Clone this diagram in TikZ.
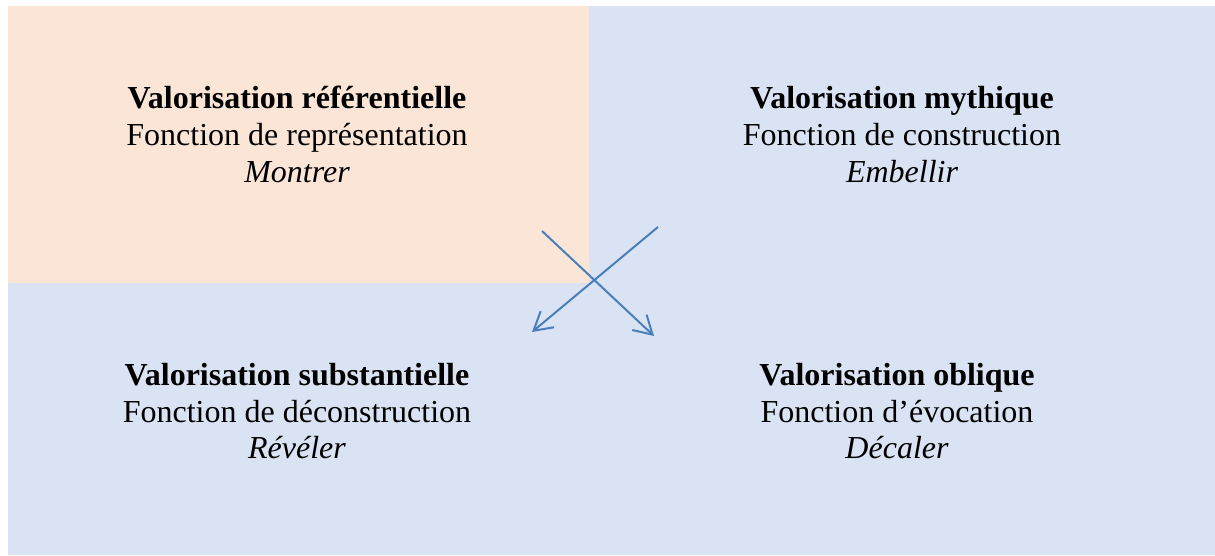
\documentclass[tikz,border=0pt]{standalone}
\usepackage{fontspec}
\setmainfont{Liberation Serif}
\usetikzlibrary{arrows.meta}
\definecolor{peach}{HTML}{FBE5D6}
\definecolor{paleblue}{HTML}{DAE3F3}
\definecolor{arrowblue}{HTML}{4A7EBB}
\begin{document}
\begin{tikzpicture}[x=1pt,y=-1pt,
  txt/.style={anchor=base,inner sep=0pt,font=\fontsize{32}{37}\selectfont},
  ttl/.style={txt,font=\fontsize{32}{37}\selectfont\bfseries},
  verb/.style={txt,font=\fontsize{32}{37}\selectfont\itshape},
  cross/.style={draw=arrowblue,line width=2pt,-{Straight Barb[length=18pt,width=21pt,line width=2pt]}}]
\useasboundingbox (0,0) rectangle (1215,555);
\fill[white] (0,0) rectangle (1215,555);
\fill[paleblue] (8,6) rectangle (1215,555);
\fill[peach] (8,6) rectangle (589,283);
% top left
\node[ttl]  (tla) at (297,108) {Valorisation référentielle};
\node[txt]  (tlb) at (297,145) {Fonction de représentation};
\node[verb] (tlc) at (297,182) {Montrer};
% top right
\node[ttl]  (tra) at (902,108) {Valorisation mythique};
\node[txt]  (trb) at (902,145) {Fonction de construction};
\node[verb] (trc) at (902,182) {Embellir};
% bottom left
\node[ttl]  (bla) at (297,385) {Valorisation substantielle};
\node[txt]  (blb) at (297,422) {Fonction de déconstruction};
\node[verb] (blc) at (297,458) {Révéler};
% bottom right
\node[ttl]  (bra) at (897,385) {Valorisation oblique};
\node[txt]  (brb) at (897,422) {Fonction d’évocation};
\node[verb] (brc) at (897,458) {Décaler};
% arrows
\coordinate (s1) at (542,231);
\coordinate (e1) at (654,336);
\coordinate (s2) at (658,227);
\coordinate (e2) at (532,332);
\draw[cross] (s1) -- (e1);
\draw[cross] (s2) -- (e2);
\end{tikzpicture}
\end{document}
